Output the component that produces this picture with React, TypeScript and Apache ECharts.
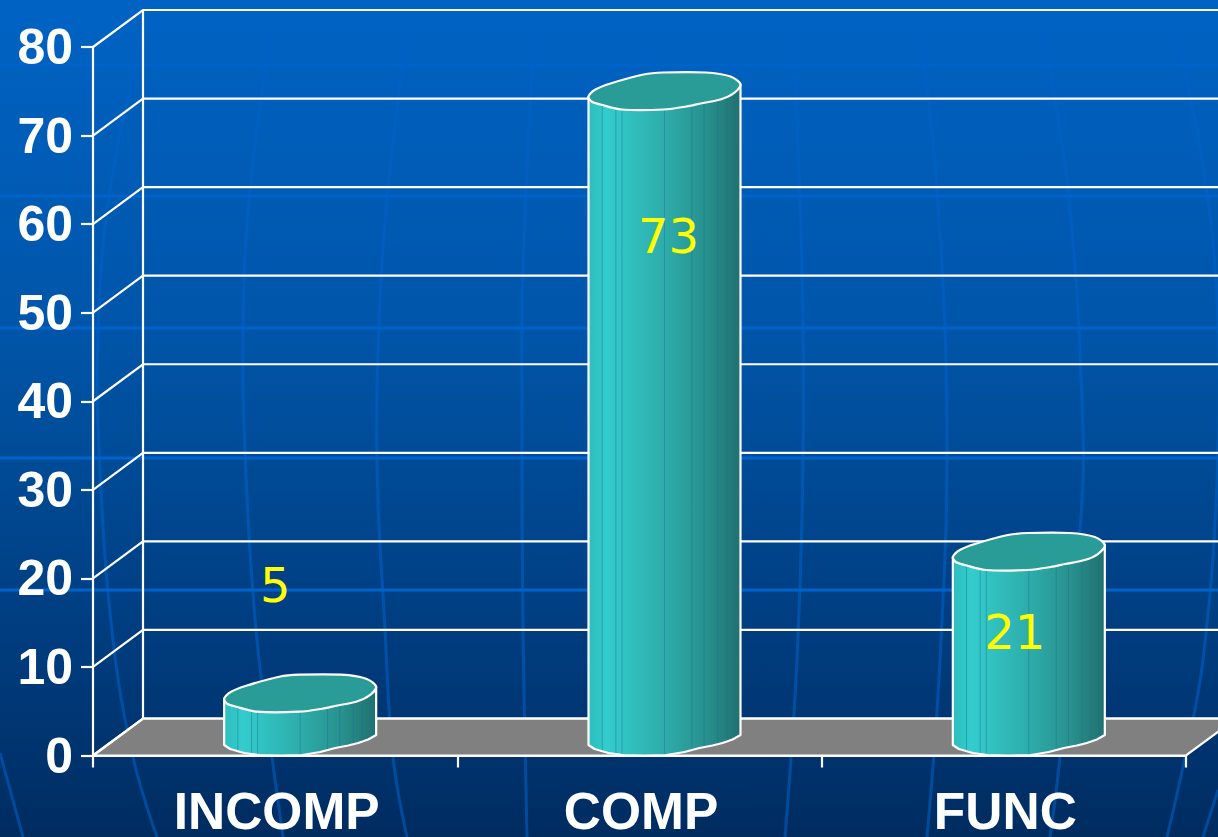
import React, { useEffect, useRef } from "react";
import * as echarts from "echarts";

const categories = ["INCOMP", "COMP", "FUNC"];
const values = [5, 73, 21];
const valueLabels = ["5", "73", "21"];
const yTicks = [0, 10, 20, 30, 40, 50, 60, 70, 80];

// label placement relative to each column (px)
const labelDx = [0, 29, 11];
const labelDy = [-126, 127, 62];

// depth of the fake 3D box (px)
const DEPTH_X = 50;
const DEPTH_Y = 37;
const HALF_W = 76;
// outline of the cylinder's cap and of its foot, as px offsets from the ellipse's centre
const capOutline = [
  [-76, 6], [-69, -1], [-54, -7], [-21, -16], [-1, -18], [41, -18], [66, -14], [76, -6],
  [69, 3], [56, 9], [36, 13], [22, 16], [-1, 19], [-43, 19], [-64, 14], [-73, 11],
];
const footOutline = [
  [-76, 8], [-70, 12], [-56, 16], [-41, 18], [-20, 18.5], [2, 18], [20, 15], [35, 11],
  [48, 8.5], [58, 6], [68, 2.5], [76, -2],
];
const stripFractions = [0.09, 0.18, 0.22, 0.5, 0.68, 0.76, 0.85, 0.91, 0.96];

// background decoration
const bandYs = [65, 196, 328, 458, 590];
const meridians: number[][][] = [
  [[143, 30], [110, 190], [98, 330], [100, 470], [113, 640], [133, 757], [157, 837]],
  [[273, 17], [250, 190], [243, 330], [247, 497], [257, 640], [272, 757], [283, 837]],
  [[408, 17], [388, 190], [380, 300], [377, 463], [385, 630], [393, 757], [407, 837]],
  [[535, 17], [523, 267], [522, 430], [523, 630], [527, 837]],
  [[792, 17], [802, 267], [803, 463], [797, 660], [785, 837]],
  [[918, 17], [937, 190], [947, 430], [940, 660], [927, 837]],
  [[1040, 17], [1068, 190], [1083, 430], [1080, 530], [1060, 757], [1050, 837]],
  [[1173, 17], [1203, 167], [1217, 300], [1217, 480], [1203, 660], [1185, 757], [1167, 837]],
  [[0, 753], [23, 837]],
  [[1218, 790], [1203, 837]],
];

function footY(dx: number) {
  for (let k = 1; k < footOutline.length; k++) {
    const [x0, y0] = footOutline[k - 1];
    const [x1, y1] = footOutline[k];
    if (dx <= x1) return y0 + ((y1 - y0) * (dx - x0)) / (x1 - x0);
  }
  return footOutline[footOutline.length - 1][1];
}

export default function App() {
  const ref = useRef<HTMLDivElement>(null);
  useEffect(() => {
    document.body.style.margin = "0";
    const chart = echarts.init(ref.current!, undefined, { renderer: "svg" });
    const white = "#ffffff";
    const lineW = 2.2;
    const meridianStroke = new echarts.graphic.LinearGradient(0, 0, 0, 837, [
      { offset: 0, color: "#0062C6" },
      { offset: 0.4, color: "#005CBC" },
      { offset: 0.8, color: "#0050A8" },
      { offset: 1, color: "#004A98" },
    ], true);
    const option: any = {
      animation: false,
      backgroundColor: new echarts.graphic.LinearGradient(0, 0, 0, 1, [
        { offset: 0, color: "#0063C4" },
        { offset: 0.4, color: "#0055A8" },
        { offset: 0.8, color: "#003A7A" },
        { offset: 1, color: "#002C60" },
      ]),
      graphic: {
        elements: [
          ...meridians.map((pts) => ({
            type: "polyline",
            silent: true,
            z: -10,
            shape: { points: pts, smooth: 0.4 },
            style: { stroke: meridianStroke, lineWidth: 3, fill: "none" },
          })),
          ...bandYs.map((y) => ({
            type: "line",
            silent: true,
            z: -9,
            shape: { x1: 0, y1: y, x2: 1218, y2: y },
            style: { stroke: "#0063CC", lineWidth: 3 },
          })),
        ],
      },
      grid: { left: 93, top: 47, width: 1093, height: 708.5, containLabel: false, outerBoundsMode: "none" },
      xAxis: {
        type: "category",
        data: categories,
        axisLine: { show: true, lineStyle: { color: white, width: lineW } },
        axisTick: { show: true, length: 12, lineStyle: { color: white, width: lineW } },
        axisLabel: {
          color: white,
          fontFamily: "Liberation Sans",
          fontWeight: "bold",
          fontSize: 51.5,
          margin: 29,
          padding: [0, 0, 0, 3],
        },
        splitLine: { show: false },
      },
      yAxis: {
        type: "value",
        min: 0,
        max: 80,
        interval: 10,
        axisLine: { show: true, lineStyle: { color: white, width: lineW } },
        axisTick: { show: true, length: 12, lineStyle: { color: white, width: lineW } },
        axisLabel: {
          color: white,
          fontFamily: "Liberation Sans",
          fontWeight: "bold",
          fontSize: 50,
          margin: 20,
        },
        splitLine: { show: false },
      },
      series: [
        {
          // floor
          type: "custom",
          z: 1,
          silent: true,
          data: [[0, 0]],
          encode: { x: 0, y: 1 },
          renderItem: (params: any, api: any) => {
            const cs = params.coordSys;
            const y = api.coord([0, api.value(1)])[1];
            const x0 = cs.x;
            const x1 = cs.x + cs.width;
            return {
              type: "polygon",
              shape: {
                points: [
                  [x0, y],
                  [x0 + DEPTH_X, y - DEPTH_Y],
                  [x1 + DEPTH_X, y - DEPTH_Y],
                  [x1, y],
                ],
              },
              style: { fill: "#808080", stroke: white, lineWidth: lineW },
            };
          },
        },
        {
          // side and back wall lines
          type: "custom",
          z: 2,
          silent: true,
          data: yTicks.map((t) => [0, t]),
          encode: { x: 0, y: 1 },
          renderItem: (params: any, api: any) => {
            const cs = params.coordSys;
            const val = api.value(1);
            const y = api.coord([0, val])[1];
            const x0 = cs.x;
            const x1 = cs.x + cs.width;
            const children: any[] = [
              {
                type: "polyline",
                shape: {
                  points: [
                    [x0, y],
                    [x0 + DEPTH_X, y - DEPTH_Y],
                    [x1 + DEPTH_X, y - DEPTH_Y],
                  ],
                },
                style: { stroke: white, lineWidth: lineW, fill: "none" },
              },
            ];
            if (val === 0) {
              children.push({
                type: "line",
                shape: {
                  x1: x0 + DEPTH_X,
                  y1: y - DEPTH_Y,
                  x2: x0 + DEPTH_X,
                  y2: cs.y - DEPTH_Y,
                },
                style: { stroke: white, lineWidth: lineW },
              });
            }
            return { type: "group", children };
          },
        },
        {
          // cylinders
          type: "custom",
          z: 5,
          silent: true,
          data: values.map((v, i) => [i, v]),
          encode: { x: 0, y: 1 },
          renderItem: (params: any, api: any) => {
            const i = api.value(0);
            const v = api.value(1);
            const [fx, topY] = api.coord([i, v]);
            const baseY = api.coord([i, 0])[1];
            const cx = fx + DEPTH_X / 2;
            const cyTop = topY - DEPTH_Y / 2;
            const cyBase = baseY - DEPTH_Y / 2;
            const cap = capOutline.map(([dx, dy]) => [cx + dx, cyTop + dy]);
            const foot = footOutline.map(([dx, dy]) => [cx + dx, cyBase + dy]);
            const body = [
              [cx - HALF_W, cyTop + capOutline[0][1]],
              ...foot,
              [cx + HALF_W, cyTop + capOutline[7][1]],
            ];
            const strips = stripFractions.map((f) => {
              const dx = -HALF_W + 2 * HALF_W * f;
              return {
                type: "line",
                shape: { x1: cx + dx, y1: cyTop, x2: cx + dx, y2: cyBase + footY(dx) - 1 },
                style: { stroke: "rgba(28,110,150,0.45)", lineWidth: 1 },
              };
            });
            return {
              type: "group",
              children: [
                {
                  type: "polygon",
                  shape: { points: body },
                  style: {
                    fill: new echarts.graphic.LinearGradient(0, 0, 1, 0, [
                      { offset: 0, color: "#2EBDBD" },
                      { offset: 0.12, color: "#33CCCC" },
                      { offset: 0.5, color: "#2DADAB" },
                      { offset: 0.78, color: "#28908D" },
                      { offset: 1, color: "#20716E" },
                    ]),
                    stroke: white,
                    lineWidth: lineW,
                    lineJoin: "round",
                  },
                },
                ...strips,
                {
                  type: "polygon",
                  shape: { points: cap, smooth: 0.3 },
                  style: { fill: "#2A9C98", stroke: white, lineWidth: lineW, lineJoin: "round" },
                },
                {
                  type: "text",
                  z2: 10,
                  x: fx + labelDx[i],
                  y: topY + labelDy[i],
                  style: {
                    text: valueLabels[i],
                    fill: "#FFFF00",
                    fontFamily: "DejaVu Sans",
                    fontSize: 48,
                    align: "center",
                    verticalAlign: "middle",
                  },
                },
              ],
            };
          },
        },
      ],
    };
    chart.setOption(option);
    return () => chart.dispose();
  }, []);
  return (
    <div
      ref={ref}
      style={{ position: "absolute", left: 0, top: 0, width: 1218, height: 837, overflow: "hidden" }}
    />
  );
}
